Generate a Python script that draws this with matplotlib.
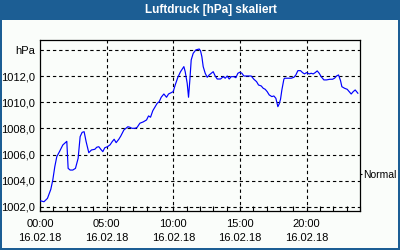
import matplotlib
matplotlib.use("Agg")
import matplotlib.pyplot as plt
from matplotlib.patches import Rectangle

plt.rcParams['font.family'] = ['Liberation Sans', 'DejaVu Sans']

title = "Luftdruck [hPa] skaliert"

hours = [0.0, 0.3, 0.56, 0.81, 0.96, 1.11, 1.26, 1.46, 1.71, 2.01,
         2.11, 2.26, 2.46, 2.66, 2.86, 3.01, 3.16, 3.31, 3.46, 3.66,
         3.86, 4.11, 4.26, 4.41, 4.56, 4.71, 4.86, 5.06, 5.26, 5.41,
         5.56, 5.71, 5.91, 6.06, 6.29, 6.59, 6.74, 6.89, 7.14, 7.29,
         7.49, 7.74, 7.99, 8.14, 8.29, 8.46, 8.64, 8.79, 8.94, 9.09,
         9.29, 9.49, 9.64, 9.79, 9.99, 10.14, 10.34, 10.54, 10.79, 10.89,
         11.04, 11.14, 11.24, 11.34, 11.49, 11.69, 11.94, 12.04, 12.14, 12.24,
         12.39, 12.54, 12.69, 12.84, 12.99, 13.14, 13.29, 13.54, 13.74, 13.89,
         14.04, 14.19, 14.34, 14.54, 14.69, 14.84, 14.99, 15.14, 15.29, 15.59,
         15.84, 16.04, 16.24, 16.39, 16.59, 16.74, 16.89, 17.04, 17.19, 17.39,
         17.54, 17.69, 17.84, 17.94, 18.04, 18.14, 18.29, 18.34, 18.59, 18.84,
         19.04, 19.19, 19.34, 19.54, 19.69, 19.84, 19.99, 20.19, 20.34, 20.49,
         20.64, 20.79, 20.94, 21.09, 21.29, 21.49, 21.74, 21.94, 22.09, 22.24,
         22.39, 22.54, 22.64, 22.84, 23.04, 23.19, 23.34, 23.49, 23.64, 23.74,
         23.84]

pressure = [1002.46, 1002.38, 1002.64, 1003.33, 1004.05, 1005.07, 1005.84, 1006.22, 1006.73, 1007.01,
            1004.94, 1004.81, 1004.81, 1004.94, 1005.71, 1007.37, 1007.70, 1007.75, 1006.98, 1006.14,
            1006.35, 1006.40, 1006.56, 1006.60, 1006.40, 1006.22, 1006.52, 1006.60, 1006.75, 1006.98,
            1007.17, 1006.91, 1007.17, 1007.42, 1007.88, 1008.13, 1008.09, 1008.01, 1008.01, 1008.09,
            1008.40, 1008.50, 1008.65, 1008.96, 1008.86, 1009.36, 1009.67, 1009.93, 1010.05, 1010.39,
            1010.64, 1010.39, 1010.64, 1010.72, 1010.82, 1011.33, 1011.92, 1012.35, 1012.74, 1012.35,
            1011.46, 1010.39, 1011.72, 1013.25, 1013.76, 1014.02, 1014.09, 1013.95, 1013.50, 1012.74,
            1012.23, 1011.92, 1012.10, 1012.23, 1012.35, 1012.02, 1011.79, 1011.79, 1011.97, 1011.85,
            1012.02, 1011.79, 1011.97, 1011.97, 1011.89, 1012.23, 1012.31, 1012.23, 1012.02, 1012.02,
            1012.02, 1011.77, 1011.59, 1011.33, 1011.26, 1011.08, 1011.00, 1010.82, 1010.57, 1010.44,
            1010.49, 1010.31, 1009.67, 1009.88, 1010.24, 1010.95, 1011.77, 1011.85, 1011.85, 1011.85,
            1011.92, 1012.10, 1012.43, 1012.43, 1012.28, 1012.18, 1012.28, 1012.18, 1012.23, 1012.18,
            1012.28, 1012.41, 1012.23, 1011.97, 1011.72, 1011.72, 1011.77, 1011.77, 1011.85, 1012.02,
            1012.10, 1011.66, 1011.20, 1011.08, 1011.00, 1010.82, 1010.64, 1010.82, 1010.95, 1010.82,
            1010.70]

assert len(hours) == len(pressure)

x_ticks = [0, 5, 10, 15, 20]
x_tick_labels = ["00:00\n16.02.18", "05:00\n16.02.18", "10:00\n16.02.18",
                 "15:00\n16.02.18", "20:00\n16.02.18"]
y_ticks = [1002, 1004, 1006, 1008, 1010, 1012, 1014]
y_tick_labels = ["1002,0", "1004,0", "1006,0", "1008,0", "1010,0", "1012,0", "hPa"]
normal_value = 1004.48
normal_label = "Normal"

W, H = 400, 250
fig = plt.figure(figsize=(4, 2.5), dpi=100)
fig.patch.set_facecolor('#fafdfa')

border = '#1c5e94'
# title bar and frame
fig.patches.append(Rectangle((0, 1 - 20 / H), 1, 20 / H, transform=fig.transFigure,
                             facecolor=border, edgecolor='none', zorder=0))
fig.patches.append(Rectangle((0, 0), 2 / W, 1, transform=fig.transFigure,
                             facecolor=border, edgecolor='none', zorder=0))
fig.patches.append(Rectangle((1 - 2 / W, 0), 2 / W, 1, transform=fig.transFigure,
                             facecolor=border, edgecolor='none', zorder=0))
fig.patches.append(Rectangle((0, 0), 1, 2 / H, transform=fig.transFigure,
                             facecolor=border, edgecolor='none', zorder=0))
fig.text(211 / W, 1 - 10.5 / H, title, color='white', fontsize=8.5, fontweight='bold',
         ha='center', va='center')

left, right, top, bottom = 40, 360, 40, 211
ax = fig.add_axes([left / W, 1 - bottom / H, (right - left) / W, (bottom - top) / H])
ax.set_facecolor('#fafdfa')

ax.plot(hours, pressure, color='#0000ff', lw=0.85, zorder=3)

ax.set_xlim(0, 24)
ax.set_ylim(1001.67, 1014.78)

ax.set_xticks(x_ticks)
ax.set_xticklabels(x_tick_labels, fontsize=8, linespacing=1.5)
ax.set_xticks(range(0, 25), minor=True)
ax.tick_params(axis='x', which='both', direction='in', length=3.5, width=0.8, pad=6,
               color='black')
ax.set_yticks(y_ticks)
ax.set_yticklabels(y_tick_labels, fontsize=8)
ax.tick_params(axis='y', length=0, pad=3.5)

for v in y_ticks:
    ax.axhline(v, color='black', lw=0.8, ls=(0, (3, 2.6)), zorder=1)
for h in x_ticks[1:]:
    ax.axvline(h, color='black', lw=0.8, ls=(0, (3, 2.6)), zorder=1)

for s in ax.spines.values():
    s.set_color('black')
    s.set_linewidth(0.9)

ax2 = ax.twinx()
ax2.set_ylim(ax.get_ylim())
ax2.set_yticks([normal_value])
ax2.set_yticklabels([normal_label], fontsize=7.5)
ax2.tick_params(axis='y', length=1.5, width=0.8, pad=0.5)
for s in ax2.spines.values():
    s.set_visible(False)

fig.savefig('out.png', dpi=100, facecolor=fig.get_facecolor())
